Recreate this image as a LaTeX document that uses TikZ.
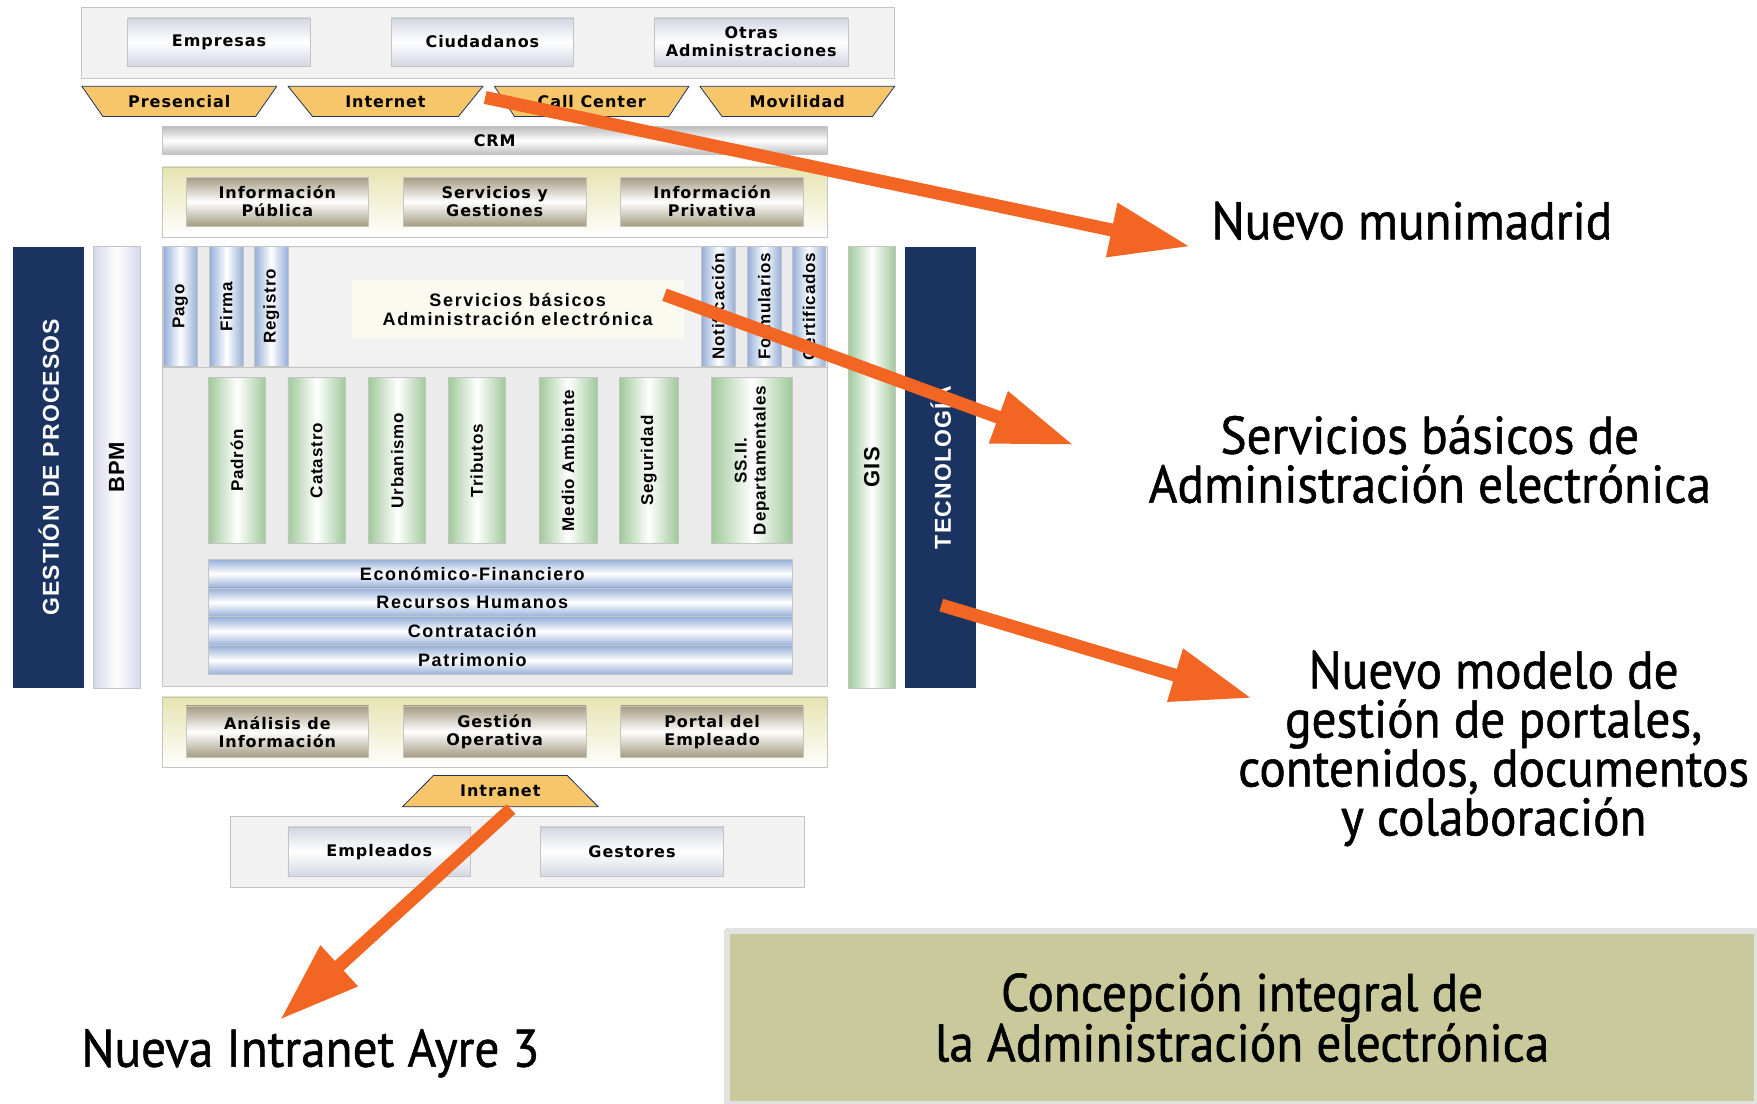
\documentclass[tikz,border=0pt]{standalone}
\usepackage{fontspec}
\setmainfont{DejaVu Sans}
\newfontfamily\cajafont{DejaVu Sans}[LetterSpace=6]
\newfontfamily\barrafont{Liberation Sans}[LetterSpace=5]
\newfontfamily\anchafont{Liberation Sans}[LetterSpace=9]
\newfontfamily\titfont{PT Sans}[FakeStretch=0.93,FakeBold=1]
\usetikzlibrary{shapes.geometric,arrows.meta}
\definecolor{naranja}{HTML}{F26522}
\definecolor{marino}{HTML}{1B3360}
\definecolor{canal}{HTML}{F8C66A}
\definecolor{gris}{HTML}{C4C4C4}
\definecolor{fondo}{HTML}{EBEBEB}
\definecolor{claro}{HTML}{F2F2F2}
\definecolor{actor}{HTML}{D3D7E3}
\definecolor{crm}{HTML}{BDBDBD}
\definecolor{taupe}{HTML}{A39A80}
\definecolor{crema}{HTML}{E6E4B0}
\definecolor{palido}{HTML}{FAFAF0}
\definecolor{azul}{HTML}{95AFD8}
\definecolor{verde}{HTML}{A0C99A}
\definecolor{lavanda}{HTML}{D6D6EA}
\definecolor{caqui}{HTML}{C9C99B}
\definecolor{borde}{HTML}{E2E2E2}

\begin{document}
\begin{tikzpicture}[x=1.1205pt,y=-1.1205pt,line join=round,
    wh/.style 2 args={minimum width=#1*1.1205pt,minimum height=#2*1.1205pt},
    caja/.style={draw=gris,line width=0.8pt,inner sep=0pt,align=center},
    txt/.style={font=\cajafont\bfseries\fontsize{16}{18}\selectfont},
    actor/.style={caja,txt,top color=actor,bottom color=actor,middle color=white},
    canal/.style={trapezium,trapezium stretches=true,shape border rotate=180,trapezium angle=45,
        fill=canal,draw=marino,line width=0.8pt,inner sep=1pt,txt},
    info/.style={caja,txt,top color=taupe,bottom color=taupe,middle color=white},
    panel/.style={caja,top color=crema,bottom color=white},
    banda/.style={fill=marino,inner sep=0pt,rotate=90,text=white,font=\barrafont\bfseries\fontsize{23}{24}\selectfont},
    vbar/.style={caja,rotate=90,left color=azul,right color=azul,middle color=white,
        font=\barrafont\bfseries\fontsize{17}{19}\selectfont},
    modulo/.style={vbar,left color=verde,right color=verde,middle color=white},
    hbar/.style={caja,top color=azul,bottom color=azul,middle color=white},
    hbartxt/.style={font=\anchafont\bfseries\fontsize{18}{19}\selectfont,inner sep=0pt,xshift=-25*1.1205pt},
    flecha/.style={draw=naranja,line width=13pt,-{Triangle[length=80pt,width=52pt]}},
    etiqueta/.style={font=\titfont\fontsize{53}{49}\selectfont,align=center}]
\useasboundingbox (0,0) rectangle (1568,985);

% usuarios y canales
\node[caja,fill=claro,wh={725}{63}] (usuarios) at (435.5,38.5) {};
\node[actor,wh={163}{43}] (empresas) at (195.5,37.5) {Empresas};
\node[actor,wh={163}{43}] (ciudadanos) at (430.5,37.5) {Ciudadanos};
\node[actor,wh={173}{43}] (otras) at (670.5,37.5) {Otras\\Administraciones};
\node[canal,wh={174}{27}] (presencial) at (160,90.5) {Presencial};
\node[canal,wh={174}{27}] (internet) at (344,90.5) {Internet};
\node[canal,wh={174}{27}] (callcenter) at (528,90.5) {Call Center};
\node[canal,wh={174}{27}] (movilidad) at (711.5,90.5) {Movilidad};

\node[caja,txt,top color=crm,bottom color=crm,middle color=white,wh={593}{25}] (crm) at (441.5,125.5) {CRM};

\node[panel,wh={593}{63}] (portal) at (441.5,180.5) {};
\node[info,wh={163}{44}] (publica) at (247.5,180) {Información\\Pública};
\node[info,wh={163}{44}] (gestiones) at (441.5,180) {Servicios y\\Gestiones};
\node[info,wh={163}{44}] (privativa) at (635.5,180) {Información\\Privativa};

% bloque central
\node[banda,wh={394}{63}] (procesos) at (43.5,417) {GESTIÓN DE PROCESOS};
\node[vbar,left color=lavanda,right color=lavanda,middle color=white,wh={394}{42},
    font=\barrafont\bfseries\fontsize{22}{24}\selectfont] (bpm) at (104,417) {BPM};
\node[caja,fill=fondo,wh={593}{393}] (nucleo) at (441.5,416.5) {};
\fill[claro] (258,221) rectangle (626,327);
\draw[gris,line width=0.8pt] (145,328) -- (738,328);
\node[caja,draw=none,fill=palido,wh={296}{52},
    font=\anchafont\bfseries\fontsize{18}{19}\selectfont] (basicos) at (462,276) {Servicios básicos\\Administración electrónica};
\foreach \x/\t/\n in {161/Pago/pago,202/Firma/firma,242/Registro/registro,
    641/Notificación/notificacion,682/Formularios/formularios,722/Certificados/certificados}
  \node[vbar,wh={107}{30}] (\n) at (\x,273.5) {\t};
\foreach \x/\w/\t/\n in {211.5/51/Padrón/padron,282.5/51/Catastro/catastro,354.5/51/Urbanismo/urbanismo,
    425.5/51/Tributos/tributos,507/52/Medio Ambiente/medio,579/52/Seguridad/seguridad}
  \node[modulo,wh={148}{\w}] (\n) at (\x,411) {\t};
\node[modulo,wh={148}{72},align=center] (ssii) at (671,411) {SS.II.\\Departamentales};
\foreach \y/\t/\n in {511.9/Económico-Financiero/economico,537.6/Recursos Humanos/rrhh,
    563.4/Contratación/contratacion,589.1/Patrimonio/patrimonio}
  \node[hbar,wh={521}{25.75},label={[hbartxt]center:\t}] (\n) at (446.5,\y) {};
\node[modulo,wh={394}{42},font=\barrafont\bfseries\fontsize{22}{24}\selectfont] (gis) at (778,417) {GIS};
\node[banda,wh={394}{63}] (tecnologia) at (839.5,417) {TECNOLOGÍA};

% empleados
\node[panel,wh={593}{63}] (interno) at (441.5,653.5) {};
\node[info,wh={163}{46}] (analisis) at (247.5,653) {Análisis de\\Información};
\node[info,wh={163}{46}] (operativa) at (441.5,653) {Gestión\\Operativa};
\node[info,wh={163}{46}] (empleado) at (635.5,653) {Portal del\\Empleado};
\node[canal,shape border rotate=0,trapezium angle=36,wh={175}{28}] (intranet) at (446.5,706) {Intranet};
\node[caja,fill=claro,wh={512}{63}] (personal) at (462,760.5) {};
\node[actor,wh={163}{44}] (empleados) at (338.5,760) {Empleados};
\node[actor,wh={164}{44}] (gestores) at (564,760) {Gestores};

% rotulos
\node[fill=caqui,draw=borde,line width=6pt,wh={919}{154},etiqueta] (concepcion) at (1108.5,908)
    {Concepción integral de\\la Administración electrónica};
\node[etiqueta] (munimadrid) at (1260,197) {Nuevo munimadrid};
\node[etiqueta] (sbasicos) at (1276,410) {Servicios básicos de\\Administración electrónica};
\node[etiqueta] (portales) at (1333,668) {Nuevo modelo de\\gestión de portales,\\contenidos, documentos\\y colaboración};
\node[etiqueta] (ayre) at (277,940) {Nueva Intranet Ayre 3};

% flechas
\coordinate (f1a) at (433,87);  \coordinate (f1b) at (1062,220);
\coordinate (f2a) at (593,263); \coordinate (f2b) at (958,397);
\coordinate (f3a) at (840,540); \coordinate (f3b) at (1117,623);
\coordinate (f4a) at (456,722); \coordinate (f4b) at (250,910);
\draw[flecha] (f1a) -- (f1b);
\draw[flecha] (f2a) -- (f2b);
\draw[flecha] (f3a) -- (f3b);
\draw[flecha] (f4a) -- (f4b);
\end{tikzpicture}
\end{document}
